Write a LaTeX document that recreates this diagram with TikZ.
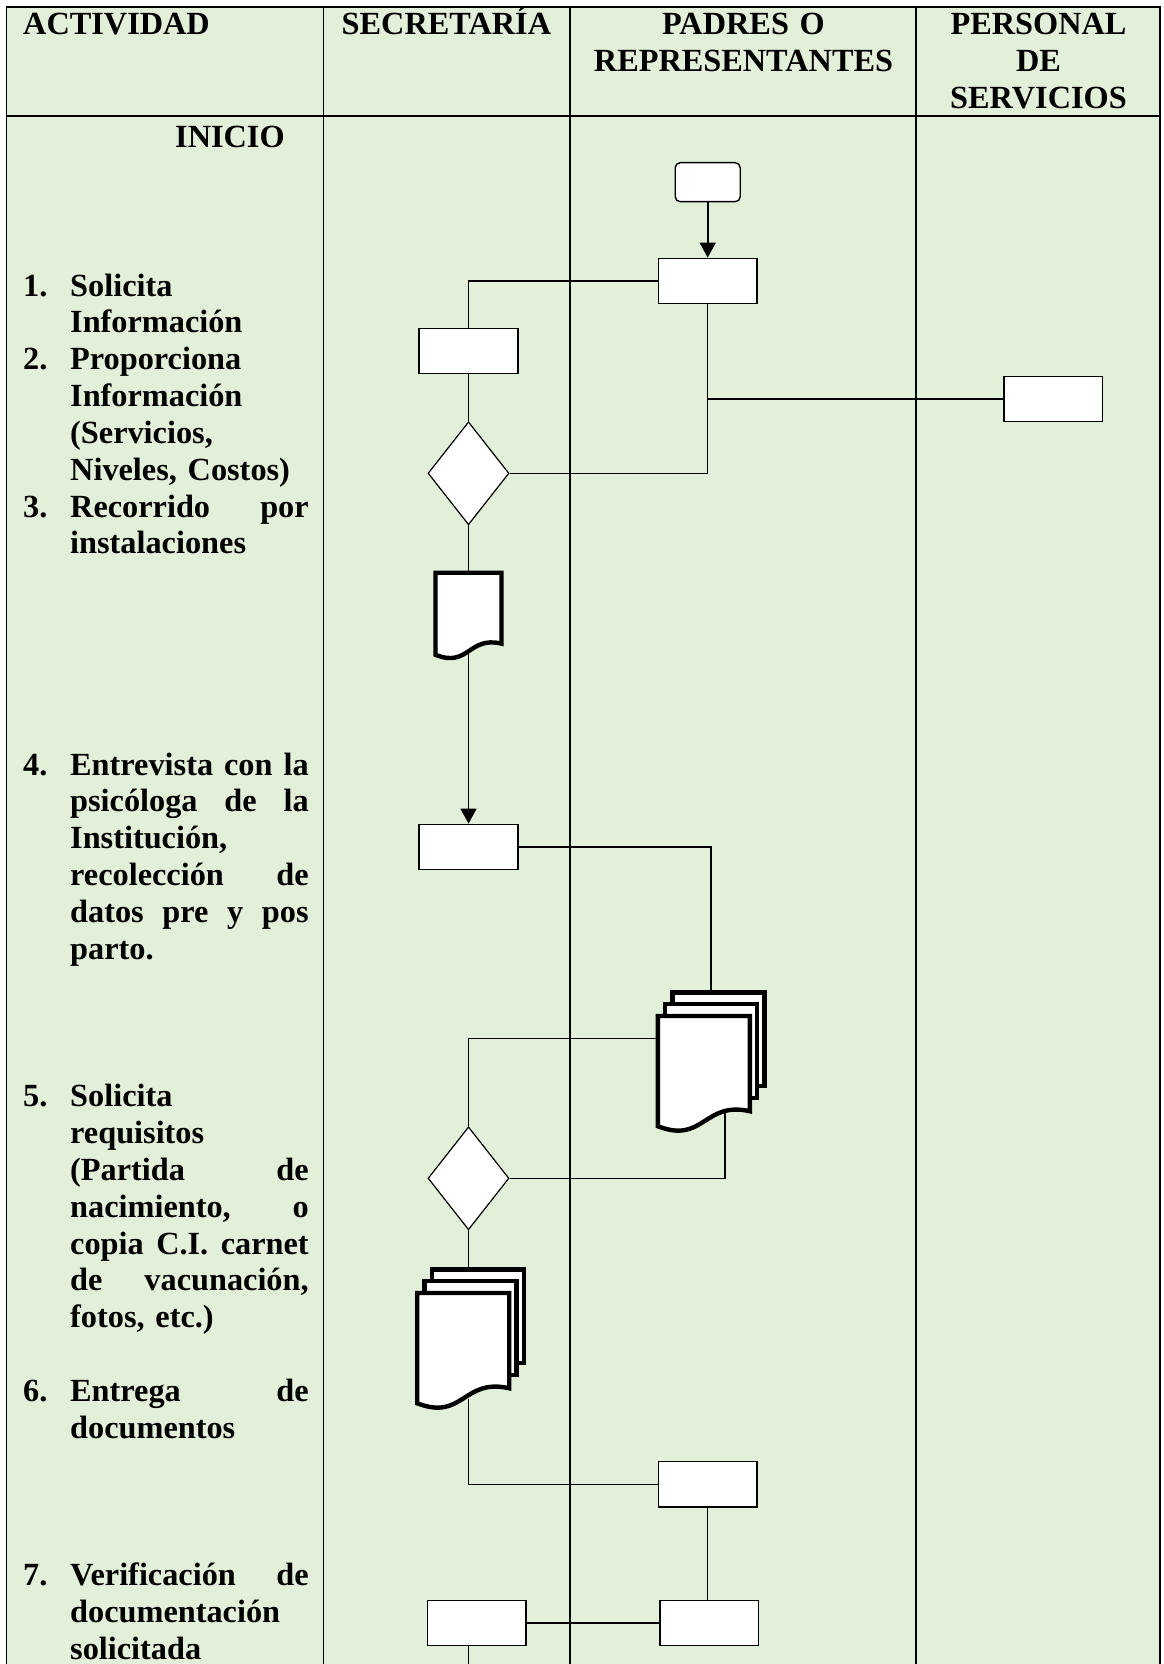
\documentclass[tikz,border=0pt]{standalone}
\usepackage{fontspec}
\setmainfont{Liberation Serif}
\usetikzlibrary{shapes.geometric,arrows.meta,calc}

\definecolor{fondo}{HTML}{E2EFD9}

% document sheet with a wavy lower edge, drawn in the box of node #1
\newcommand{\docpage}[1]{%
  \draw[docline] (#1.north west) -- (#1.north east)
    -- ($(#1.north east)!0.903!(#1.south east)$)
    .. controls ($(#1.north)!0.802!(#1.south)$) and ($(#1.north)!1.215!(#1.south)$)
    .. ($(#1.north west)!1.045!(#1.south west)$) -- cycle;}

\begin{document}
\begin{tikzpicture}[x=1pt, y=1pt]
\tikzstyle{boxr}=[rectangle, draw, fill=white, line width=1.4pt, minimum width=98.7pt, minimum height=45.4pt, inner sep=0pt]
\tikzstyle{boxt}=[boxr, rounded corners=5pt, minimum width=65pt, minimum height=39pt]
\tikzstyle{boxd}=[diamond, draw, fill=white, line width=1.2pt, minimum width=81pt, minimum height=103pt, inner sep=0pt]
\tikzstyle{pagebox}=[rectangle, draw, fill=white, line width=4.4pt, minimum width=92pt, minimum height=93.5pt, inner sep=0pt]
\tikzstyle{docnode}=[rectangle, inner sep=0pt, outer sep=0pt]
\tikzstyle{docline}=[draw, fill=white, line width=4.4pt, line join=miter]
\tikzstyle{drawstyle}=[line width=1.2pt]
\tikzstyle{arrowstyle}=[line width=1.6pt, -{Triangle[width=16pt,length=15pt]}]
\tikzstyle{tabla}=[line width=1.7pt]
\tikzstyle{titulo}=[inner sep=0pt, font=\fontsize{32.3}{36.85}\selectfont\bfseries]
\tikzstyle{numero}=[titulo, anchor=base west]
\tikzstyle{texto}=[titulo, anchor=base west, text width=238.5pt, align=left]

\useasboundingbox (0,0) rectangle (1163,-1664);

% table
\fill[fondo] (6.5,-6.7) rectangle (1160,-1664);
\draw[tabla] (6.5,-1664) -- (6.5,-6.7) -- (1160,-6.7) -- (1160,-1664);
\draw[tabla] (6.5,-115.7) -- (1160,-115.7);
\foreach \x in {323.6,569.8,915.7} \draw[tabla] (\x,-6.7) -- (\x,-1664);

\node[titulo, anchor=base west] (H1) at (23,-35) {ACTIVIDAD};
\node[titulo, anchor=base west] (H2) at (341.5,-35) {SECRETARÍA};
\node[titulo, anchor=base, text width=330pt, align=center] (H3) at (743.5,-35) {PADRES O\\REPRESENTANTES};
\node[titulo, anchor=base, text width=240pt, align=center] (H4) at (1038.5,-35) {PERSONAL\\DE\\SERVICIOS};

% activities
\node[numero] (T0) at (175,-148) {INICIO};
\node[numero] (N1) at (23,-296) {1.};
\node[texto] (T1) at (70,-296) {Solicita\\Información};
\node[numero] (N2) at (23,-369.7) {2.};
\node[texto] (T2) at (70,-369.7) {Proporciona\\Información\\(Servicios,\\Niveles, Costos)};
\node[numero] (N3) at (23,-517.1) {3.};
\node[texto] (T3) at (70,-517.1) {Recorrido\hfill por\\instalaciones};
\node[numero] (N4) at (23,-775) {4.};
\node[texto] (T4) at (70,-775) {Entrevista\hfill con\hfill la\\psicóloga\hfill de\hfill la\\Institución,\\recolección\hfill de\\datos\hfill pre\hfill y\hfill pos\\parto.};
\node[numero] (N5) at (23,-1106.7) {5.};
\node[texto] (T5) at (70,-1106.7) {Solicita\\requisitos\\(Partida\hfill de\\nacimiento,\hfill o\\copia\hfill C.I.\hfill carnet\\de\hfill vacunación,\\fotos, etc.)};
\node[numero] (N6) at (23,-1401.5) {6.};
\node[texto] (T6) at (70,-1401.5) {Entrega\hfill de\\documentos};
\node[numero] (N7) at (23,-1585.7) {7.};
\node[texto] (T7) at (70,-1585.7) {Verificación\hfill de\\documentación\\solicitada};

% padres o representantes
\node[boxt] (P0) at (707.7,-182.2) {};
\node[boxr] (P1) at (707.7,-281) {};
\node[pagebox] (P2b) at (718.5,-1039.15) {};
\node[pagebox] (P2a) at (711.2,-1050.95) {};
\node[docnode, minimum width=92pt, minimum height=105.5pt] (P2) at (703.9,-1068.75) {};
\node[boxr] (P3) at (707.7,-1484.3) {};
\node[boxr] (P4) at (709.3,-1623) {};

% secretaria
\node[boxr] (S1) at (468.5,-351) {};
\node[boxd] (S2) at (468.5,-473.3) {};
\node[docnode, minimum width=66pt, minimum height=78.5pt] (S3) at (468.5,-612) {};
\node[boxr] (S4) at (468.5,-847) {};
\node[boxd] (S5) at (468.5,-1178.3) {};
\node[pagebox] (S6b) at (477.8,-1316.15) {};
\node[pagebox] (S6a) at (470.5,-1327.95) {};
\node[docnode, minimum width=92pt, minimum height=105.5pt] (S6) at (463.2,-1345.75) {};
\node[boxr] (S7) at (476.7,-1623) {};

% personal de servicios
\node[boxr] (E1) at (1053.3,-399) {};

% connectors
\draw[arrowstyle] (P0.south) -- (P1.north);
\draw[drawstyle] (P1.west) -| (S1.north);
\draw[drawstyle] (S1.south) -- (S2.north);
\draw[drawstyle] (S2.east) -| (P1.south);
\draw[drawstyle] (E1.west) -- (E1.west -| P1.south);
\draw[drawstyle] (S2.south) -- (S3.north);
\draw[arrowstyle] (S3.south) -- (S4.north);
\draw[drawstyle] (S4.east) -| ([xshift=-7.5pt]P2b.north);
\draw[drawstyle] ([yshift=30pt]P2.west) -| (S5.north);
\draw[drawstyle] (S5.east) -| ([xshift=21pt]P2.center);
\draw[drawstyle] (S5.south) -- (S5.south |- S6b.north);
\draw[drawstyle] ([xshift=5pt]S6.south) |- (P3.west);
\draw[drawstyle] (P3.south) -- (P3.south |- P4.north);
\draw[drawstyle] (S7.east) -- (P4.west);
\coordinate (fin) at (468.3,-1664);
\draw[drawstyle] (S7.south -| fin) -- (fin);

% document sheets on top
\docpage{S3}
\docpage{P2}
\docpage{S6}
\end{tikzpicture}
\end{document}
